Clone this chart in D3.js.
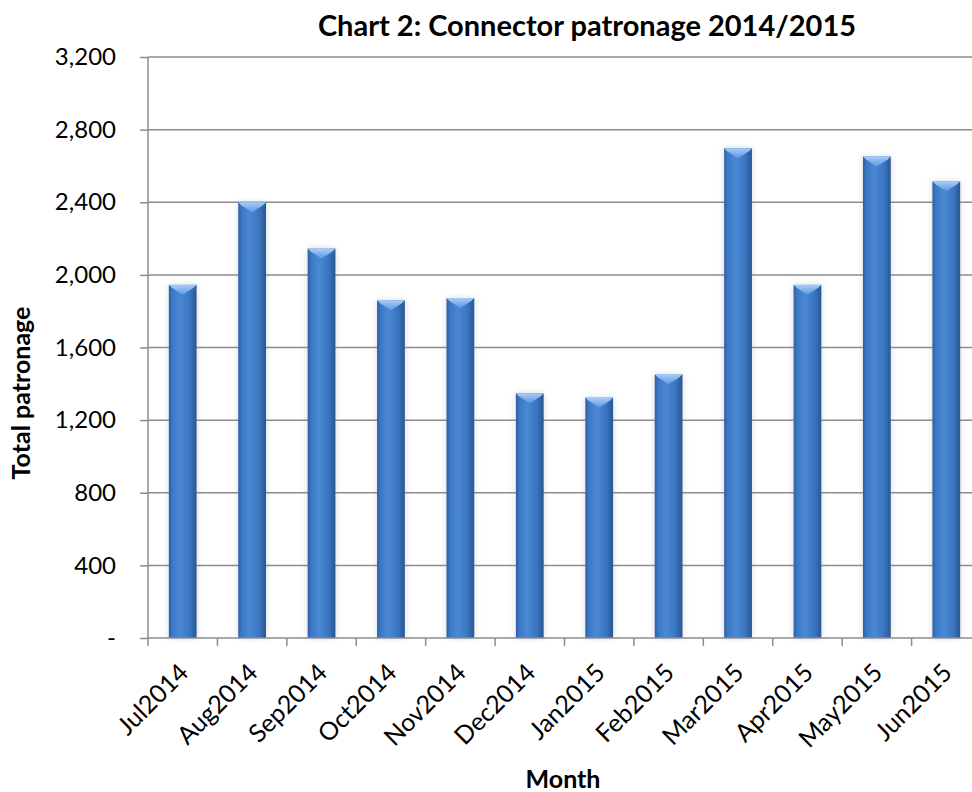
<!DOCTYPE html>
<html>
<head>
<meta charset="utf-8">
<script src="https://cdn.jsdelivr.net/npm/d3@7"></script>
<style>
  html, body { margin: 0; padding: 0; background: #fff; }
  svg { display: block; }
  text { font-family: Lato, "Open Sans", sans-serif; fill: #000; }
</style>
</head>
<body>
<svg id="chart" width="972" height="792"></svg>
<script>
// Monthly Connector patronage, July 2014 – June 2015
const months = ["Jul2014", "Aug2014", "Sep2014", "Oct2014", "Nov2014", "Dec2014",
                "Jan2015", "Feb2015", "Mar2015", "Apr2015", "May2015", "Jun2015"];
const patronage = [1945, 2400, 2145, 1860, 1872, 1348, 1324, 1452, 2698, 1945, 2652, 2515];
const yTicks = [0, 400, 800, 1200, 1600, 2000, 2400, 2800, 3200];

const svg = d3.select("#chart");
const plot = { left: 148, right: 981, top: 57, bottom: 638 };

const x = d3.scaleBand()
  .domain(months)
  .range([plot.left, plot.right])
  .paddingInner(0.6)
  .paddingOuter(0.3);

const y = d3.scaleLinear()
  .domain([0, 3200])
  .range([plot.bottom, plot.top]);

const defs = svg.append("defs");

// horizontal shading across each column
const bodyGrad = defs.append("linearGradient").attr("id", "barBody")
  .attr("x1", "0").attr("x2", "1").attr("y1", "0").attr("y2", "0");
[["0%", "#2c5da1"], ["12%", "#3b77c4"], ["40%", "#4b88d4"], ["75%", "#3b75c2"], ["100%", "#285791"]]
  .forEach(([o, c]) => bodyGrad.append("stop").attr("offset", o).attr("stop-color", c));

const capGrad = defs.append("linearGradient").attr("id", "barCap")
  .attr("x1", "0").attr("x2", "0").attr("y1", "0").attr("y2", "1");
[["0%", "#a9cdf7"], ["100%", "#5c98e0"]]
  .forEach(([o, c]) => capGrad.append("stop").attr("offset", o).attr("stop-color", c));

const glow = defs.append("filter").attr("id", "barGlow")
  .attr("x", "-40%").attr("y", "-5%").attr("width", "180%").attr("height", "110%");
glow.append("feDropShadow").attr("dx", 0).attr("dy", 0).attr("stdDeviation", 3)
  .attr("flood-color", "#7f8fa6").attr("flood-opacity", 0.35);

// gridlines
svg.append("g")
  .selectAll("line")
  .data(yTicks.filter(d => d > 0))
  .join("line")
  .attr("x1", plot.left).attr("x2", plot.right)
  .attr("y1", d => y(d)).attr("y2", d => y(d))
  .attr("stroke", "#8c8c8c").attr("stroke-width", 1.5);

// columns
const bars = svg.append("g").selectAll("g")
  .data(months.map((m, i) => ({ m, v: patronage[i] })))
  .join("g");

bars.append("rect")
  .attr("x", d => x(d.m))
  .attr("y", d => y(d.v))
  .attr("width", x.bandwidth())
  .attr("height", d => y(0) - y(d.v))
  .attr("fill", "url(#barBody)")
  .attr("filter", "url(#barGlow)");

bars.append("path")
  .attr("d", d => {
    const x0 = x(d.m), w = x.bandwidth(), t = y(d.v);
    return `M${x0},${t} L${x0 + w},${t} L${x0 + w - 3},${t + 3} L${x0 + w / 2},${t + 10} L${x0 + 3},${t + 3} Z`;
  })
  .attr("fill", "url(#barCap)");

// y axis
const yAxis = svg.append("g")
  .attr("transform", `translate(${plot.left},0)`)
  .call(d3.axisLeft(y).tickValues(yTicks).tickSize(8).tickPadding(24)
    .tickFormat(d => d === 0 ? "-" : d3.format(",")(d)));
yAxis.select(".domain").attr("stroke", "#8c8c8c").attr("stroke-width", 1.5)
  .attr("d", `M0,${plot.top}V${plot.bottom}`);
yAxis.selectAll(".tick line").attr("stroke", "#8c8c8c").attr("stroke-width", 1.5);
yAxis.selectAll(".tick text").attr("font-size", 24).attr("fill", "#000")
  .attr("font-family", "Lato, 'Open Sans', sans-serif");

// x axis
const xTickPos = months.map(m => x(m) - x.step() * 0.3).concat([plot.right]);
const xAxis = svg.append("g");
xAxis.append("line")
  .attr("x1", plot.left).attr("x2", plot.right)
  .attr("y1", plot.bottom).attr("y2", plot.bottom)
  .attr("stroke", "#8c8c8c").attr("stroke-width", 1.5);
xAxis.selectAll("line.tick")
  .data(xTickPos)
  .join("line").attr("class", "tick")
  .attr("x1", d => d).attr("x2", d => d)
  .attr("y1", plot.bottom).attr("y2", plot.bottom + 8)
  .attr("stroke", "#8c8c8c").attr("stroke-width", 1.5);
xAxis.selectAll("text")
  .data(months)
  .join("text")
  .attr("transform", d => `translate(${x(d) + x.bandwidth() / 2 + 1},${plot.bottom + 30}) rotate(-45)`)
  .attr("text-anchor", "end")
  .attr("dy", "0.35em")
  .attr("font-size", 25)
  .text(d => d);

// titles
svg.append("text")
  .attr("x", 587).attr("y", 36)
  .attr("text-anchor", "middle")
  .attr("font-size", 29).attr("font-weight", "bold")
  .text("Chart 2: Connector patronage 2014/2015");

svg.append("text")
  .attr("transform", "translate(30,393) rotate(-90)")
  .attr("text-anchor", "middle")
  .attr("font-size", 25).attr("font-weight", "bold")
  .text("Total patronage");

svg.append("text")
  .attr("x", 563).attr("y", 788)
  .attr("text-anchor", "middle")
  .attr("font-size", 25).attr("font-weight", "bold")
  .text("Month");
</script>
</body>
</html>
